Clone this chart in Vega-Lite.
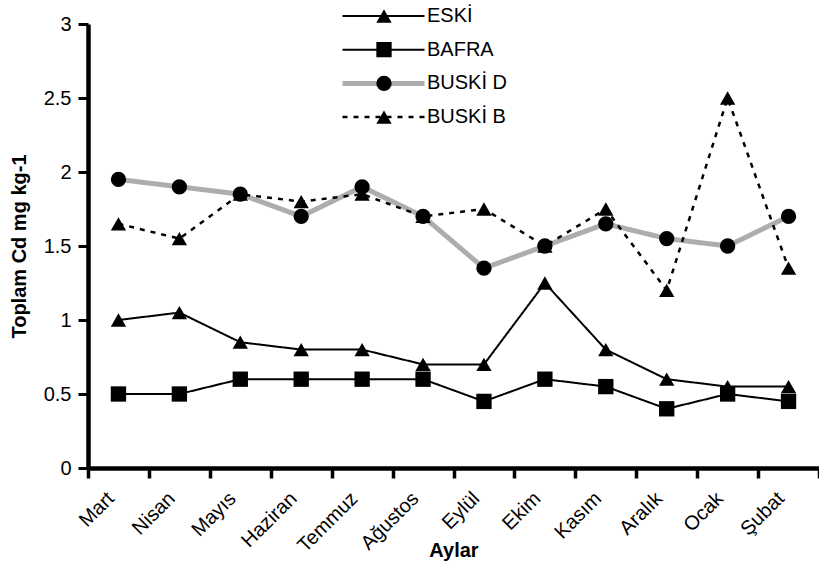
{
  "$schema": "https://vega.github.io/schema/vega-lite/v6.json",
  "width": 731,
  "height": 444,
  "autosize": {"type": "none"},
  "padding": {"left": 88, "top": 24, "right": 0, "bottom": 95},
  "background": "white",
  "config": {
    "font": "Liberation Sans",
    "view": {"stroke": null},
    "axis": {"grid": false, "domainColor": "black", "labelColor": "black", "titleColor": "black", "labelFont": "Liberation Sans", "titleFont": "Liberation Sans"},
    "legend": {"labelFont": "Liberation Sans", "labelColor": "black"}
  },
  "data": {
    "values": [
      {"month": "Mart", "series": "ESKİ", "value": 1.0},
      {"month": "Nisan", "series": "ESKİ", "value": 1.05},
      {"month": "Mayıs", "series": "ESKİ", "value": 0.85},
      {"month": "Haziran", "series": "ESKİ", "value": 0.8},
      {"month": "Temmuz", "series": "ESKİ", "value": 0.8},
      {"month": "Ağustos", "series": "ESKİ", "value": 0.7},
      {"month": "Eylül", "series": "ESKİ", "value": 0.7},
      {"month": "Ekim", "series": "ESKİ", "value": 1.25},
      {"month": "Kasım", "series": "ESKİ", "value": 0.8},
      {"month": "Aralık", "series": "ESKİ", "value": 0.6},
      {"month": "Ocak", "series": "ESKİ", "value": 0.55},
      {"month": "Şubat", "series": "ESKİ", "value": 0.55},
      {"month": "Mart", "series": "BAFRA", "value": 0.5},
      {"month": "Nisan", "series": "BAFRA", "value": 0.5},
      {"month": "Mayıs", "series": "BAFRA", "value": 0.6},
      {"month": "Haziran", "series": "BAFRA", "value": 0.6},
      {"month": "Temmuz", "series": "BAFRA", "value": 0.6},
      {"month": "Ağustos", "series": "BAFRA", "value": 0.6},
      {"month": "Eylül", "series": "BAFRA", "value": 0.45},
      {"month": "Ekim", "series": "BAFRA", "value": 0.6},
      {"month": "Kasım", "series": "BAFRA", "value": 0.55},
      {"month": "Aralık", "series": "BAFRA", "value": 0.4},
      {"month": "Ocak", "series": "BAFRA", "value": 0.5},
      {"month": "Şubat", "series": "BAFRA", "value": 0.45},
      {"month": "Mart", "series": "BUSKİ D", "value": 1.95},
      {"month": "Nisan", "series": "BUSKİ D", "value": 1.9},
      {"month": "Mayıs", "series": "BUSKİ D", "value": 1.85},
      {"month": "Haziran", "series": "BUSKİ D", "value": 1.7},
      {"month": "Temmuz", "series": "BUSKİ D", "value": 1.9},
      {"month": "Ağustos", "series": "BUSKİ D", "value": 1.7},
      {"month": "Eylül", "series": "BUSKİ D", "value": 1.35},
      {"month": "Ekim", "series": "BUSKİ D", "value": 1.5},
      {"month": "Kasım", "series": "BUSKİ D", "value": 1.65},
      {"month": "Aralık", "series": "BUSKİ D", "value": 1.55},
      {"month": "Ocak", "series": "BUSKİ D", "value": 1.5},
      {"month": "Şubat", "series": "BUSKİ D", "value": 1.7},
      {"month": "Mart", "series": "BUSKİ B", "value": 1.65},
      {"month": "Nisan", "series": "BUSKİ B", "value": 1.55},
      {"month": "Mayıs", "series": "BUSKİ B", "value": 1.85},
      {"month": "Haziran", "series": "BUSKİ B", "value": 1.8},
      {"month": "Temmuz", "series": "BUSKİ B", "value": 1.85},
      {"month": "Ağustos", "series": "BUSKİ B", "value": 1.7},
      {"month": "Eylül", "series": "BUSKİ B", "value": 1.75},
      {"month": "Ekim", "series": "BUSKİ B", "value": 1.5},
      {"month": "Kasım", "series": "BUSKİ B", "value": 1.75},
      {"month": "Aralık", "series": "BUSKİ B", "value": 1.2},
      {"month": "Ocak", "series": "BUSKİ B", "value": 2.5},
      {"month": "Şubat", "series": "BUSKİ B", "value": 1.35}
    ]
  },
  "encoding": {
    "x": {
      "field": "month",
      "type": "nominal",
      "sort": ["Mart", "Nisan", "Mayıs", "Haziran", "Temmuz", "Ağustos", "Eylül", "Ekim", "Kasım", "Aralık", "Ocak", "Şubat"],
      "scale": {"paddingInner": 0, "paddingOuter": 0},
      "axis": {
        "title": "Aylar",
        "titleFontSize": 20,
        "titleFontWeight": "bold",
        "titleY": 88,
        "titleBaseline": "alphabetic",
        "labelFontSize": 20,
        "labelAngle": -45,
        "labelAlign": "right",
        "labelBaseline": "top",
        "ticks": true,
        "tickColor": "black",
        "tickOpacity": 1,
        "tickBand": "extent",
        "tickExtra": true,
        "labelOffset": -15,
        "labelPadding": 10,
        "tickSize": 10,
        "tickWidth": 3.5,
        "domainWidth": 4.5
      }
    },
    "y": {
      "field": "value",
      "type": "quantitative",
      "scale": {"domain": [0, 3], "nice": false},
      "axis": {
        "title": "Toplam Cd mg kg-1",
        "titleFontSize": 20,
        "titleFontWeight": "bold",
        "titlePadding": 14,
        "values": [0, 0.5, 1, 1.5, 2, 2.5, 3],
        "format": "~g",
        "labelFontSize": 20,
        "labelPadding": 7,
        "tickColor": "black",
        "tickSize": 10,
        "tickWidth": 3,
        "domainWidth": 4.5
      }
    }
  },
  "layer": [
    {
      "mark": {"type": "line", "clip": false},
      "encoding": {
        "color": {
          "field": "series",
          "type": "nominal",
          "scale": {"domain": ["ESKİ", "BAFRA", "BUSKİ D", "BUSKİ B"], "range": ["black", "black", "#adadad", "black"]},
          "legend": {
            "orient": "none",
            "legendX": 252,
            "legendY": -18,
            "title": null,
            "padding": 0,
            "symbolType": "stroke",
            "symbolSize": 6724,
            "clipHeight": 20,
            "rowPadding": 13.7,
            "labelFontSize": 20,
            "labelOffset": 0,
            "labelLimit": 300
          }
        },
        "strokeDash": {
          "field": "series",
          "type": "nominal",
          "scale": {"domain": ["ESKİ", "BAFRA", "BUSKİ D", "BUSKİ B"], "range": [[1, 0], [1, 0], [1, 0], [5, 6]]}
        },
        "strokeWidth": {
          "field": "series",
          "type": "nominal",
          "scale": {"type": "ordinal", "domain": ["ESKİ", "BAFRA", "BUSKİ D", "BUSKİ B"], "range": [2, 2, 5, 2.5]}
        }
      }
    },
    {
      "mark": {"type": "point", "filled": true, "color": "black", "opacity": 1, "size": 235, "strokeWidth": 0},
      "encoding": {
        "shape": {
          "field": "series",
          "type": "nominal",
          "sort": ["ESKİ", "BAFRA", "BUSKİ D", "BUSKİ B"],
          "scale": {"range": ["triangle-up", "square", "circle", "triangle-up"]},
          "legend": {
            "orient": "none",
            "legendX": 286,
            "legendY": -18,
            "title": null,
            "padding": 0,
            "symbolSize": 235,
            "symbolFillColor": "black",
            "symbolStrokeColor": "black",
            "symbolStrokeWidth": 0,
            "symbolOpacity": 1,
            "clipHeight": 20,
            "rowPadding": 13.7,
            "labelFontSize": 20,
            "labelExpr": "''"
          }
        }
      }
    }
  ]
}
